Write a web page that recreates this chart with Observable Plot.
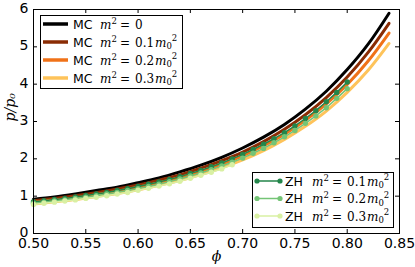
<!DOCTYPE html>
<html>
<head>
<meta charset="utf-8">
<script src="https://cdn.jsdelivr.net/npm/d3@7"></script>
<script src="https://cdn.jsdelivr.net/npm/@observablehq/plot@0.6"></script>
<style>
  html, body { margin: 0; padding: 0; background: white; }
  #chart svg { display: block; }
</style>
</head>
<body>
<div id="chart"></div>
<script>
// ---- data ----
const xTicks = [0.50, 0.55, 0.60, 0.65, 0.70, 0.75, 0.80, 0.85];
const yTicks = [0, 1, 2, 3, 4, 5, 6];

// MC curves (phi every 0.02)
const phiMC = [0.50, 0.52, 0.54, 0.56, 0.58, 0.60, 0.62, 0.64, 0.66, 0.68, 0.70, 0.72, 0.74, 0.76, 0.78, 0.80, 0.82, 0.84];
const mcM0  = [0.92, 0.98, 1.06, 1.15, 1.24, 1.36, 1.49, 1.65, 1.83, 2.04, 2.29, 2.58, 2.92, 3.33, 3.81, 4.39, 5.07, 5.90];
const mcM1  = [0.88, 0.94, 1.01, 1.09, 1.19, 1.30, 1.43, 1.57, 1.75, 1.95, 2.18, 2.46, 2.79, 3.18, 3.64, 4.19, 4.85, 5.63];
const mcM2  = [0.84, 0.90, 0.96, 1.04, 1.13, 1.24, 1.36, 1.50, 1.66, 1.86, 2.08, 2.35, 2.66, 3.03, 3.47, 3.99, 4.62, 5.37];
const mcM3  = [0.79, 0.85, 0.91, 0.99, 1.07, 1.17, 1.29, 1.42, 1.58, 1.76, 1.97, 2.22, 2.52, 2.87, 3.28, 3.78, 4.37, 5.09];

// ZH points (phi every 0.01)
const phiZH = [0.50, 0.51, 0.52, 0.53, 0.54, 0.55, 0.56, 0.57, 0.58, 0.59, 0.60, 0.61, 0.62, 0.63, 0.64, 0.65,
               0.66, 0.67, 0.68, 0.69, 0.70, 0.71, 0.72, 0.73, 0.74, 0.75, 0.76, 0.77, 0.78, 0.79, 0.80];
const zhM1 = [0.85, 0.88, 0.91, 0.94, 0.98, 1.02, 1.06, 1.10, 1.15, 1.20, 1.26, 1.32, 1.38, 1.45, 1.52, 1.61,
              1.69, 1.79, 1.89, 2.00, 2.12, 2.25, 2.39, 2.54, 2.70, 2.88, 3.08, 3.29, 3.53, 3.78, 4.06];
const zhM2 = [0.81, 0.84, 0.87, 0.90, 0.94, 0.97, 1.01, 1.06, 1.10, 1.15, 1.20, 1.26, 1.32, 1.39, 1.46, 1.54,
              1.62, 1.71, 1.81, 1.91, 2.02, 2.15, 2.28, 2.43, 2.59, 2.76, 2.95, 3.15, 3.37, 3.62, 3.88];
const zhM3 = [0.78, 0.81, 0.84, 0.87, 0.90, 0.94, 0.97, 1.01, 1.06, 1.10, 1.16, 1.21, 1.27, 1.33, 1.40, 1.48,
              1.56, 1.64, 1.73, 1.84];

const mcSeries = [
  {key: "MC0", mass: "0",   values: mcM0, color: "#000000"},
  {key: "MC1", mass: "0.1", values: mcM1, color: "#8a2c04"},
  {key: "MC2", mass: "0.2", values: mcM2, color: "#f07218"},
  {key: "MC3", mass: "0.3", values: mcM3, color: "#fec35a"}
];
const zhSeries = [
  {key: "ZH1", mass: "0.1", values: zhM1, color: "#23854a"},
  {key: "ZH2", mass: "0.2", values: zhM2, color: "#74c476"},
  {key: "ZH3", mass: "0.3", values: zhM3, color: "#d9f0a3"}
];

const rows = (s, phis) => s.values.map((v, i) => ({phi: phis[i], v, key: s.key}));

const marks = [];
for (const s of mcSeries) {
  marks.push(Plot.line(rows(s, phiMC), {x: "phi", y: "v", stroke: s.color, strokeWidth: 3, curve: "catmull-rom"}));
}
for (const s of zhSeries) {
  const d = rows(s, phiZH);
  marks.push(Plot.line(d, {x: "phi", y: "v", stroke: s.color, strokeWidth: 1.5}));
  marks.push(Plot.dot(d, {x: "phi", y: "v", fill: s.color, r: 2.7}));
}

const chart = Plot.plot({
  width: 415,
  height: 267,
  marginLeft: 33,
  marginRight: 16,
  marginTop: 9,
  marginBottom: 34,
  style: {fontFamily: "DejaVu Sans", fontSize: "14px", color: "black", background: "white"},
  x: {domain: [0.5, 0.85]},
  y: {domain: [0, 6]},
  marks: [
    Plot.axisX(xTicks, {tickSize: 0, tickPadding: 5, label: null, tickFormat: d => d.toFixed(2), fontSize: 14}),
    Plot.axisY(yTicks, {tickSize: 0, tickPadding: 5, label: null, fontSize: 14, dy: -1}),
    // inward ticks on all four sides
    Plot.tickX(xTicks, {x: d => d, stroke: "black", insetTop: 220}),
    Plot.tickX(xTicks, {x: d => d, stroke: "black", insetBottom: 220}),
    Plot.tickY(yTicks, {y: d => d, stroke: "black", insetRight: 362}),
    Plot.tickY(yTicks, {y: d => d, stroke: "black", insetLeft: 362}),
    ...marks,
    Plot.frame({stroke: "black", strokeWidth: 1}),
    Plot.text(["ϕ"], {frameAnchor: "bottom", dy: 27, fontStyle: "italic", fontSize: 14, fontFamily: "DejaVu Serif"}),
    Plot.text(["p/p₀"], {frameAnchor: "left", dx: -23, rotate: -90, fontStyle: "italic", fontSize: 14, fontFamily: "DejaVu Serif"})
  ]
});
document.getElementById("chart").appendChild(chart);

// ---- legends ----
const svg = d3.select(chart);
function labelText(g, x, y, prefix, mass) {
  const ms = "font-family:'DejaVu Serif';";
  const t = g.append("text").attr("x", x).attr("y", y)
    .attr("text-anchor", "start")
    .attr("font-family", "DejaVu Sans").attr("font-size", 12.5).attr("fill", "black");
  t.append("tspan").text(prefix);
  t.append("tspan").attr("x", x + 27).attr("style", ms).attr("font-size", 12).attr("font-style", "italic").text("m");
  t.append("tspan").attr("style", ms).attr("font-size", 8.5).attr("dy", -5).text("2");
  t.append("tspan").attr("x", x + 47).attr("dy", 5).attr("style", ms).attr("font-size", 12).text("=");
  if (mass === "0") {
    t.append("tspan").attr("x", x + 62).attr("style", ms).attr("font-size", 12).text("0");
  } else {
    t.append("tspan").attr("x", x + 62).attr("style", ms).attr("font-size", 12).text(mass);
    t.append("tspan").attr("x", x + 82).attr("style", ms).attr("font-size", 12).attr("font-style", "italic").text("m");
    t.append("tspan").attr("style", ms).attr("font-size", 8.5).attr("dy", 2.5).text("0");
    t.append("tspan").attr("style", ms).attr("font-size", 8.5).attr("dy", -8).text("2");
  }
}

const g1 = svg.append("g");
g1.append("rect").attr("x", 40.5).attr("y", 15.5).attr("width", 142).attr("height", 73)
  .attr("fill", "white").attr("stroke", "black").attr("stroke-width", 1);
mcSeries.forEach((s, i) => {
  const y = 24 + i * 18;
  g1.append("line").attr("x1", 43).attr("x2", 68).attr("y1", y).attr("y2", y)
    .attr("stroke", s.color).attr("stroke-width", 3.5);
  labelText(g1, 73, y + 4.5, "MC", s.mass);
});

const g2 = svg.append("g");
g2.append("rect").attr("x", 252.5).attr("y", 172.5).attr("width", 141).attr("height", 55)
  .attr("fill", "white").attr("stroke", "black").attr("stroke-width", 1);
zhSeries.forEach((s, i) => {
  const y = 181 + i * 17.5;
  g2.append("line").attr("x1", 257).attr("x2", 280).attr("y1", y).attr("y2", y)
    .attr("stroke", s.color).attr("stroke-width", 1.5);
  g2.append("circle").attr("cx", 257).attr("cy", y).attr("r", 2.6).attr("fill", s.color);
  g2.append("circle").attr("cx", 280).attr("cy", y).attr("r", 2.6).attr("fill", s.color);
  labelText(g2, 285, y + 4.5, "ZH", s.mass);
});
</script>
</body>
</html>
